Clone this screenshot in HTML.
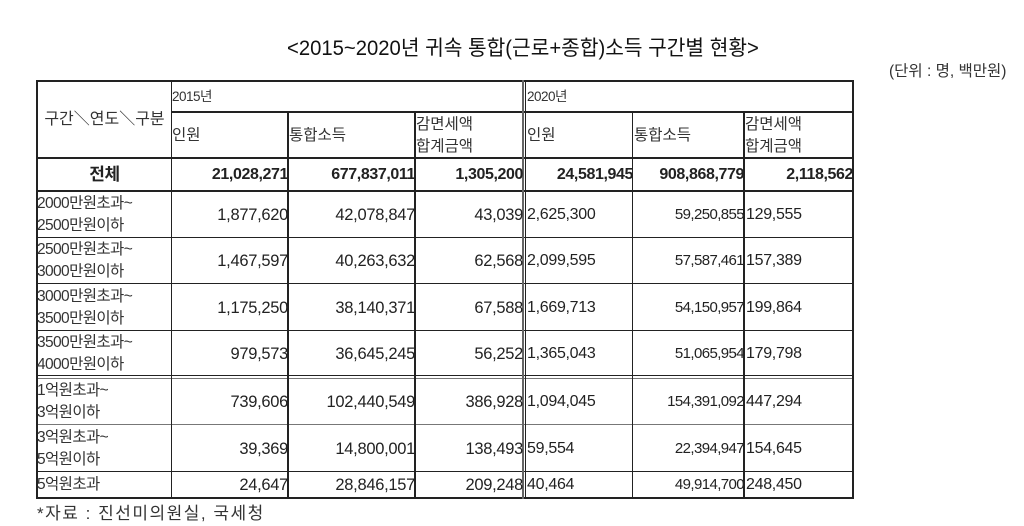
<!DOCTYPE html>
<html><head><meta charset="utf-8"><style>
body{margin:0;width:1024px;height:526px;background:#fff;position:relative;overflow:hidden;font-family:"Liberation Sans","Noto Sans CJK KR",sans-serif;color:#222}
.h{position:absolute;height:2px;background:#222}
.v{position:absolute;width:2px;background:#222}
.c{position:absolute;display:flex;align-items:center;box-sizing:border-box;line-height:22px}
.n{justify-content:flex-end;font-size:16.5px;padding-right:0;letter-spacing:-0.3px}
.l{justify-content:flex-start;font-size:16px;padding-left:1px;letter-spacing:-0.3px}
.k{font-size:15.5px;color:#333}
.b{font-weight:bold;font-size:16px;letter-spacing:-0.4px}
</style></head><body>
<div style="position:absolute;left:287px;top:32px;font-size:21px;white-space:nowrap;transform:scaleX(0.965);transform-origin:left top;color:#111">&lt;2015~2020년 귀속 통합(근로+종합)소득 구간별 현황&gt;</div>
<div style="position:absolute;left:889px;top:59px;font-size:15.5px;color:#333;white-space:nowrap">(단위 : 명, 백만원)</div>

<div class="h" style="left:37px;width:817px;top:80px"></div>
<div class="h" style="left:171px;width:683px;top:111px"></div>
<div class="h" style="left:37px;width:817px;top:157px"></div>
<div class="h" style="left:37px;width:817px;top:190px"></div>
<div class="h" style="left:37px;width:817px;top:237px;height:1px"></div>
<div class="h" style="left:37px;width:817px;top:283px;height:1px"></div>
<div class="h" style="left:37px;width:817px;top:330px;height:1px"></div>
<div class="h" style="left:37px;width:817px;top:375px;height:1px"></div>
<div class="h" style="left:37px;width:817px;top:378px;height:1px;background:#777"></div>
<div class="h" style="left:37px;width:817px;top:424px;height:1px;background:#777"></div>
<div class="h" style="left:37px;width:817px;top:471px;height:1px"></div>
<div class="h" style="left:37px;width:817px;top:497px"></div>
<div class="v" style="left:36px;top:80px;height:419px"></div>
<div class="v" style="left:171px;top:80px;height:419px;width:1px"></div>
<div class="v" style="left:287px;top:111px;height:388px"></div>
<div class="v" style="left:414px;top:111px;height:388px"></div>
<div class="v" style="left:522px;top:80px;height:419px;width:2px;background:#666"></div>
<div class="v" style="left:525px;top:80px;height:419px;width:1px"></div>
<div class="v" style="left:632px;top:111px;height:388px;width:1px"></div>
<div class="v" style="left:743px;top:111px;height:388px"></div>
<div class="v" style="left:852px;top:80px;height:419px"></div>

<div class="c k" style="left:38px;top:81px;width:133px;height:77px;justify-content:center;font-size:16px">구간＼연도＼구분</div>
<div class="c k" style="left:172px;top:82px;width:300px;height:30px;font-size:13.5px;letter-spacing:-0.5px">2015년</div>
<div class="c k" style="left:527px;top:82px;width:300px;height:30px;font-size:13.5px;letter-spacing:-0.5px">2020년</div>
<div class="c k" style="left:172px;top:113px;width:110px;height:45px">인원</div>
<div class="c k" style="left:289px;top:113px;width:120px;height:45px">통합소득</div>
<div class="c k" style="left:416px;top:113px;width:105px;height:45px">감면세액<br>합계금액</div>
<div class="c k" style="left:527px;top:113px;width:100px;height:45px">인원</div>
<div class="c k" style="left:634px;top:113px;width:105px;height:45px">통합소득</div>
<div class="c k" style="left:745px;top:113px;width:105px;height:45px">감면세액<br>합계금액</div>

<div class="c b" style="left:38px;top:159px;width:133px;height:32px;justify-content:center;font-size:17px">전체</div>
<div class="c n b" style="left:172px;top:159px;width:116px;height:32px">21,028,271</div>
<div class="c n b" style="left:289px;top:159px;width:126px;height:32px">677,837,011</div>
<div class="c n b" style="left:416px;top:159px;width:107px;height:32px">1,305,200</div>
<div class="c n b" style="left:527px;top:159px;width:106px;height:32px">24,581,945</div>
<div class="c n b" style="left:634px;top:159px;width:110px;height:32px">908,868,779</div>
<div class="c n b" style="left:745px;top:159px;width:108px;height:32px">2,118,562</div>

<div class="c k" style="left:37px;top:192px;width:134px;height:46px;letter-spacing:-0.6px">2000만원초과~<br>2500만원이하</div>
<div class="c n" style="left:172px;top:192px;width:116px;height:46px">1,877,620</div>
<div class="c n" style="left:289px;top:192px;width:126px;height:46px">42,078,847</div>
<div class="c n" style="left:416px;top:192px;width:107px;height:46px">43,039</div>
<div class="c l" style="left:526px;top:192px;width:106px;height:46px">2,625,300</div>
<div class="c n" style="left:634px;top:192px;width:110px;height:46px;font-size:15px;letter-spacing:-0.6px">59,250,855</div>
<div class="c l" style="left:745px;top:192px;width:106px;height:46px">129,555</div>

<div class="c k" style="left:37px;top:238px;width:134px;height:46px;letter-spacing:-0.6px">2500만원초과~<br>3000만원이하</div>
<div class="c n" style="left:172px;top:238px;width:116px;height:46px">1,467,597</div>
<div class="c n" style="left:289px;top:238px;width:126px;height:46px">40,263,632</div>
<div class="c n" style="left:416px;top:238px;width:107px;height:46px">62,568</div>
<div class="c l" style="left:526px;top:238px;width:106px;height:46px">2,099,595</div>
<div class="c n" style="left:634px;top:238px;width:110px;height:46px;font-size:15px;letter-spacing:-0.6px">57,587,461</div>
<div class="c l" style="left:745px;top:238px;width:106px;height:46px">157,389</div>

<div class="c k" style="left:37px;top:284px;width:134px;height:47px;letter-spacing:-0.6px">3000만원초과~<br>3500만원이하</div>
<div class="c n" style="left:172px;top:284px;width:116px;height:47px">1,175,250</div>
<div class="c n" style="left:289px;top:284px;width:126px;height:47px">38,140,371</div>
<div class="c n" style="left:416px;top:284px;width:107px;height:47px">67,588</div>
<div class="c l" style="left:526px;top:284px;width:106px;height:47px">1,669,713</div>
<div class="c n" style="left:634px;top:284px;width:110px;height:47px;font-size:15px;letter-spacing:-0.6px">54,150,957</div>
<div class="c l" style="left:745px;top:284px;width:106px;height:47px">199,864</div>

<div class="c k" style="left:37px;top:331px;width:134px;height:45px;letter-spacing:-0.6px">3500만원초과~<br>4000만원이하</div>
<div class="c n" style="left:172px;top:331px;width:116px;height:45px">979,573</div>
<div class="c n" style="left:289px;top:331px;width:126px;height:45px">36,645,245</div>
<div class="c n" style="left:416px;top:331px;width:107px;height:45px">56,252</div>
<div class="c l" style="left:526px;top:331px;width:106px;height:45px">1,365,043</div>
<div class="c n" style="left:634px;top:331px;width:110px;height:45px;font-size:15px;letter-spacing:-0.6px">51,065,954</div>
<div class="c l" style="left:745px;top:331px;width:106px;height:45px">179,798</div>

<div class="c k" style="left:37px;top:379px;width:134px;height:46px;letter-spacing:-0.6px">1억원초과~<br>3억원이하</div>
<div class="c n" style="left:172px;top:379px;width:116px;height:46px">739,606</div>
<div class="c n" style="left:289px;top:379px;width:126px;height:46px">102,440,549</div>
<div class="c n" style="left:416px;top:379px;width:107px;height:46px">386,928</div>
<div class="c l" style="left:526px;top:379px;width:106px;height:46px">1,094,045</div>
<div class="c n" style="left:634px;top:379px;width:110px;height:46px;font-size:15px;letter-spacing:-0.6px">154,391,092</div>
<div class="c l" style="left:745px;top:379px;width:106px;height:46px">447,294</div>

<div class="c k" style="left:37px;top:425px;width:134px;height:47px;letter-spacing:-0.6px">3억원초과~<br>5억원이하</div>
<div class="c n" style="left:172px;top:425px;width:116px;height:47px">39,369</div>
<div class="c n" style="left:289px;top:425px;width:126px;height:47px">14,800,001</div>
<div class="c n" style="left:416px;top:425px;width:107px;height:47px">138,493</div>
<div class="c l" style="left:526px;top:425px;width:106px;height:47px">59,554</div>
<div class="c n" style="left:634px;top:425px;width:110px;height:47px;font-size:15px;letter-spacing:-0.6px">22,394,947</div>
<div class="c l" style="left:745px;top:425px;width:106px;height:47px">154,645</div>

<div class="c k" style="left:37px;top:472px;width:134px;height:26px;letter-spacing:-0.6px">5억원초과</div>
<div class="c n" style="left:172px;top:472px;width:116px;height:26px">24,647</div>
<div class="c n" style="left:289px;top:472px;width:126px;height:26px">28,846,157</div>
<div class="c n" style="left:416px;top:472px;width:107px;height:26px">209,248</div>
<div class="c l" style="left:526px;top:472px;width:106px;height:26px">40,464</div>
<div class="c n" style="left:634px;top:472px;width:110px;height:26px;font-size:15px;letter-spacing:-0.6px">49,914,700</div>
<div class="c l" style="left:745px;top:472px;width:106px;height:26px">248,450</div>

<div style="position:absolute;left:37px;top:499px;font-size:17px;letter-spacing:1.5px;color:#333;white-space:nowrap">*자료 : 진선미의원실, 국세청</div>
</body></html>
